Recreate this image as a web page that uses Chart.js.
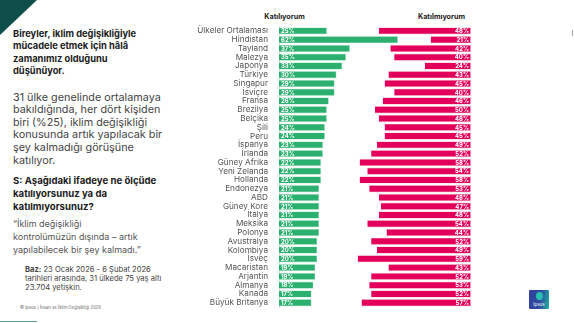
<!DOCTYPE html>
<html>
<head>
<meta charset="utf-8">
<script src="https://cdn.jsdelivr.net/npm/chart.js@4.4.1/dist/chart.umd.min.js"></script>
<style>
  body { margin: 0; background: #fff; }
  #slide { position: relative; width: 574px; height: 323px; overflow: hidden; background: #fff; font-family: Inter, sans-serif; }
  .txt { position: absolute; white-space: nowrap; }
  #corner { position: absolute; left: 0; top: 0; width: 37px; height: 35px; background: #0e4f4b; clip-path: polygon(0 0, 100% 0, 0 100%); }
  #chart { position: absolute; left: 190px; top: 0; }
  .head { position: absolute; top: 12px; font: bold 7.2px Inter, sans-serif; color: #222; transform: translateX(-50%); }
  #logo { position: absolute; left: 529px; top: 290px; width: 20px; height: 19px; border-radius: 1px;
          background: linear-gradient(100deg, #33409c 0%, #2f4aa0 55%, #1fb3a0 100%); }
  #logo .dot { position: absolute; left: 7px; top: 2px; width: 7px; height: 8px; border-radius: 50%; background: #27c0b0; }
  #logo .name { position: absolute; left: 0; width: 20px; top: 12px; text-align: center; font: 4.5px Inter, sans-serif; color: #fff; }
</style>
</head>
<body>
<div id="slide">
  <div id="corner"></div>

  <div class="txt" style="left:13px; top:27.7px; font-weight:700; font-size:9.3px; line-height:12.6px; color:#1b1b1b;">
    Bireyler, iklim değişikliğiyle<br>mücadele etmek için hâlâ<br>zamanımız olduğunu<br>düşünüyor.
  </div>

  <div class="txt" style="left:13px; top:91.7px; font-size:10.8px; line-height:12.6px; color:#444;">
    31 ülke genelinde ortalamaya<br>bakıldığında, her dört kişiden<br>biri (%25), iklim değişikliği<br>konusunda artık yapılacak bir<br>şey kalmadığı görüşüne<br>katılıyor.
  </div>

  <div class="txt" style="left:13px; top:173.5px; font-weight:700; font-size:9.6px; line-height:13px; color:#1b1b1b;">
    S: Aşağıdaki ifadeye ne ölçüde<br>katılıyorsunuz ya da<br>katılmıyorsunuz?
  </div>

  <div class="txt" style="left:13px; top:216.5px; font-size:9px; line-height:13px; color:#555;">
    “İklim değişikliği<br>kontrolümüzün dışında – artık<br>yapılabilecek bir şey kalmadı.”
  </div>

  <div class="txt" style="left:25px; top:264.5px; font-size:7.6px; line-height:9px; color:#444;">
    <b>Baz:</b> 23 Ocak 2026 - 6 Şubat 2026<br>tarihleri arasında, 31 ülkede 75 yaş altı<br>23.704 yetişkin.
  </div>

  <div class="txt" style="left:20px; top:304.5px; font-size:4.3px; line-height:5px; color:#666;">
    © Ipsos | İnsan ve İklim Değişikliği 2026
  </div>

  <div style="position:absolute; left:0; top:321px; width:37px; height:1px; background:#5f9e98;"></div>
  <div style="position:absolute; left:572px; top:30px; width:1px; height:6px; background:#9aa;"></div>

  <div class="head" style="left:284.5px;">Katılıyorum</div>
  <div class="head" style="left:441.5px;">Katılmıyorum</div>

  <canvas id="chart" width="300" height="323"></canvas>

  <div id="logo"><div class="dot"></div><div class="name">Ipsos</div></div>
</div>

<script>
const countries = ['Ülkeler Ortalaması', 'Hindistan', 'Tayland', 'Malezya', 'Japonya', 'Türkiye', 'Singapur', 'İsviçre',
  'Fransa', 'Brezilya', 'Belçika', 'Şili', 'Peru', 'İspanya', 'İrlanda', 'Güney Afrika', 'Yeni Zelanda', 'Hollanda',
  'Endonezya', 'ABD', 'Güney Kore', 'İtalya', 'Meksika', 'Polonya', 'Avustralya', 'Kolombiya', 'İsveç', 'Macaristan',
  'Arjantin', 'Almanya', 'Kanada', 'Büyük Britanya'];
const agree = [25, 62, 37, 35, 33, 30, 29, 29, 26, 25, 25, 24, 24, 23, 23, 22, 22, 22, 21, 21, 21, 21, 21, 21, 20, 20, 20, 19, 19, 18, 17, 17];
const disagree = [48, 21, 42, 40, 24, 43, 45, 40, 46, 50, 48, 45, 45, 49, 52, 58, 54, 58, 53, 48, 47, 48, 54, 44, 52, 49, 59, 43, 52, 53, 52, 57];

const GREEN = '#2bb070';
const RED = '#e2005b';

// red bars hang from the right edge (100) leftwards
const disagreeBars = disagree.map(v => [100 - v, 100]);

const pctLabels = {
  id: 'pctLabels',
  afterDatasetsDraw(chart) {
    const ctx = chart.ctx;
    ctx.save();
    ctx.fillStyle = '#fff';
    ctx.font = 'bold 6px Inter, sans-serif';
    ctx.textBaseline = 'middle';
    chart.getDatasetMeta(0).data.forEach((bar, i) => {
      ctx.textAlign = 'left';
      ctx.fillText(agree[i] + '%', bar.base + 2, bar.y + 0.5);
    });
    chart.getDatasetMeta(1).data.forEach((bar, i) => {
      ctx.textAlign = 'right';
      ctx.fillText(disagree[i] + '%', bar.x - 2, bar.y + 0.5);
    });
    ctx.restore();
  }
};

new Chart(document.getElementById('chart'), {
  type: 'bar',
  data: {
    labels: countries,
    datasets: [
      { label: 'Katılıyorum', data: agree, backgroundColor: GREEN, borderColor: '#c4ecd6', borderWidth: 0.7, grouped: false },
      { label: 'Katılmıyorum', data: disagreeBars, backgroundColor: RED, borderColor: '#f7c3d6', borderWidth: 0.7, grouped: false }
    ]
  },
  options: {
    indexAxis: 'y',
    responsive: false,
    animation: false,
    devicePixelRatio: 1,
    categoryPercentage: 1,
    barPercentage: 0.84,
    layout: { padding: { top: 26.5, bottom: 5.4, left: 0, right: 19 } },
    plugins: { legend: { display: false }, tooltip: { enabled: false } },
    scales: {
      x: { min: 0, max: 100, display: false },
      y: {
        grid: { display: false, drawTicks: false },
        border: { display: true, color: '#dcdcdc', width: 1 },
        ticks: { color: '#555', padding: 11, autoSkip: false, font: { family: 'Inter', size: 8.2 } },
        afterFit(scale) { scale.width = 89; }
      }
    }
  },
  plugins: [pctLabels]
});
</script>
</body>
</html>
